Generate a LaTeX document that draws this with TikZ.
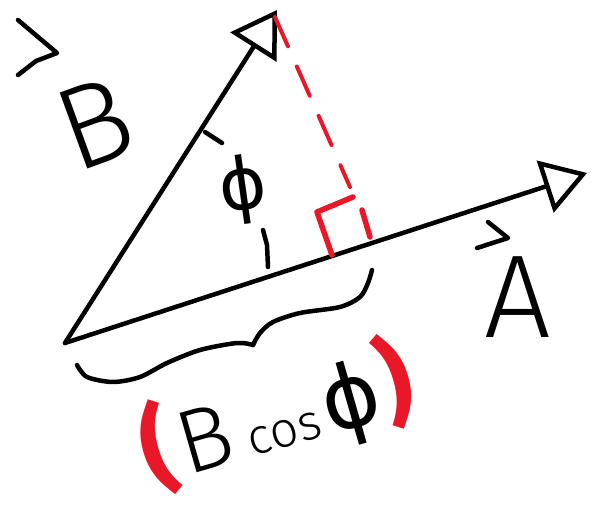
\documentclass[tikz,border=0pt]{standalone}
\usepackage{fontspec}
\newfontfamily\handfont{Fira Sans Light}
\newfontfamily\parenfont{Fira Sans Bold}
\newfontfamily\phifont{DejaVu Sans}
\usetikzlibrary{arrows.meta}
\definecolor{penred}{RGB}{232,24,40}

\begin{document}
\begin{tikzpicture}[x=1pt,y=-1pt,
    pen/.style={line width=4.5pt,line cap=round,line join=round},
    vec/.style={pen,-{Triangle[open,length=44pt,width=54pt]}},
    redpen/.style={penred,line width=5.5pt,line cap=round,line join=round},
    lbl/.style={inner sep=0pt,font=\handfont},
  ]
    \useasboundingbox (0,0) rectangle (592,513);
    % the two vectors
    \coordinate (O)    at (65,343);
    \coordinate (Btip) at (277,10);
    \coordinate (Atip) at (587,173);
    \draw[vec] (O) -- (Btip);
    \draw[vec] (O) -- (Atip);
    % projection of B onto A
    \coordinate (dtop) at (275,17);
    \coordinate (dend) at (350,187);
    \draw[redpen,line width=4pt,dash pattern=on 32pt off 22pt] (dtop) -- (dend);
    \coordinate (r1) at (353,197);
    \coordinate (r2) at (317,212);
    \coordinate (r3) at (332,255);
    \coordinate (r4) at (362,210);
    \coordinate (r5) at (370,237);
    \draw[redpen] (r1) -- (r2) -- (r3);
    \draw[redpen] (r4) -- (r5);
    % labels
    \node[lbl,rotate=20,font=\handfont\fontsize{118}{118}\selectfont] (Blbl) at (95,123) {B};
    \draw[pen] (18,20) -- (57,53) -- (36,61) -- (18,75);
    \node[lbl,font=\handfont\fontsize{118}{118}\selectfont] (Albl) at (518,297) {A};
    \draw[pen] (488,222) -- (508,238) -- (477,248);
    % angle
    \draw[pen] (205,132) -- (222,143);
    \draw[pen] (263,230) -- (267,245) -- (268,267);
    \node[lbl,rotate=8,font=\phifont\fontsize{72}{72}\selectfont] (phi) at (243,190) {ϕ};
    % brace and length
    \draw[pen] plot[smooth] coordinates {(77,365) (87,377) (113,382) (140,377) (167,363) (200,350) (237,343) (253,345)};
    \draw[pen] plot[smooth] coordinates {(253,345) (260,333) (273,322) (300,313) (340,307) (360,297) (368,283) (372,270)};
    \node[lbl,rotate=16] (proj) at (277,416)
      {{\color{penred}\parenfont\fontsize{97}{97}\selectfont(}\hspace{6pt}%
       \fontsize{90}{90}\selectfont B\hspace{14pt}%
       \fontsize{50}{50}\selectfont cos\hspace{6pt}%
       {\phifont\fontsize{88}{88}\selectfont ϕ}\hspace{4pt}%
       {\color{penred}\parenfont\fontsize{97}{97}\selectfont)}};
\end{tikzpicture}
\end{document}
